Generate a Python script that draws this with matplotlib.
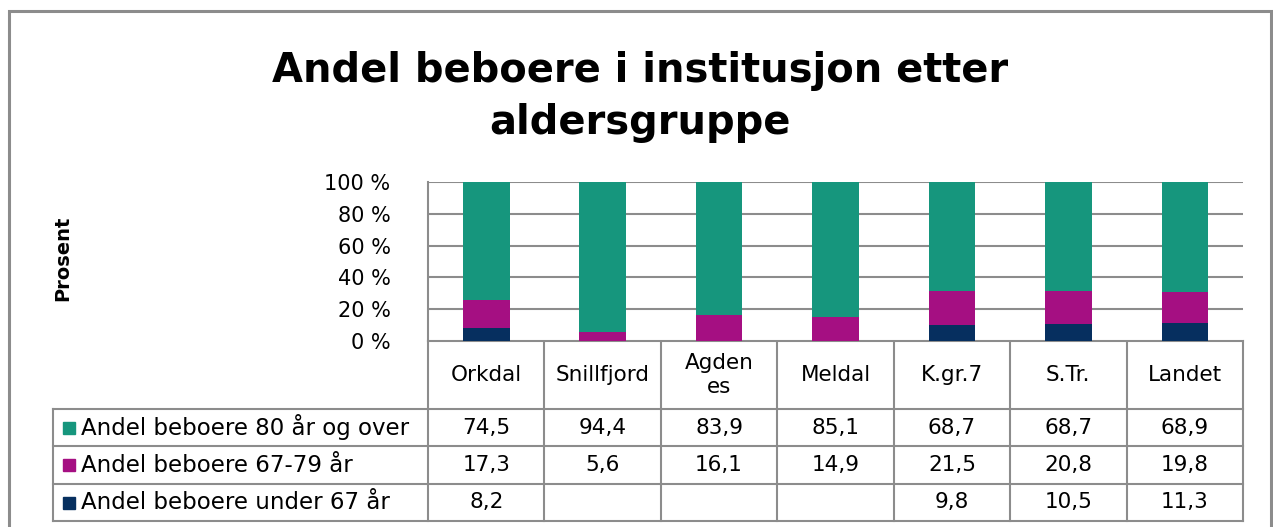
import matplotlib
matplotlib.use('Agg')

import matplotlib.pyplot as plt
import numpy as np

plt.rcParams['font.family'] = ['DejaVu Sans']

# data
categories = ['Orkdal', 'Snillfjord', 'Agden\nes', 'Meldal', 'K.gr.7', 'S.Tr.', 'Landet']
series_names = ['Andel beboere 80 år og over',
                'Andel beboere 67-79 år',
                'Andel beboere under 67 år']
over_80 = [74.5, 94.4, 83.9, 85.1, 68.7, 68.7, 68.9]
age_67_79 = [17.3, 5.6, 16.1, 14.9, 21.5, 20.8, 19.8]
under_67 = [8.2, None, None, None, 9.8, 10.5, 11.3]

# farger
COLOR_80 = '#16967d'
COLOR_67 = '#a50f82'
COLOR_U67 = '#062f5f'
COLOR_LINE = '#8c8c8c'

W, H = 1273, 527
fig = plt.figure(figsize=(W / 100, H / 100), dpi=100)

# overlay i pikselkoordinater for ramme og tabell
ov = fig.add_axes([0, 0, 1, 1])
ov.set_xlim(0, W)
ov.set_ylim(H, 0)
ov.axis('off')

# ytre ramme
ov.plot([9, 9, 1271, 1271], [H, 11, 11, H], color=COLOR_LINE, lw=2.2, solid_joinstyle='miter')

ax_l, ax_r, ax_t, ax_b = 428, 1243, 182, 341
ax = fig.add_axes([ax_l / W, 1 - ax_b / H, (ax_r - ax_l) / W, (ax_b - ax_t) / H])

x = np.arange(len(categories))
u67 = np.array([v if v is not None else 0 for v in under_67])
a67 = np.array(age_67_79)
o80 = np.array(over_80)
bw = 0.4
ax.bar(x, u67, bw, color=COLOR_U67, zorder=3)
ax.bar(x, a67, bw, bottom=u67, color=COLOR_67, zorder=3)
ax.bar(x, o80, bw, bottom=u67 + a67, color=COLOR_80, zorder=3)

ax.set_xlim(-0.5, len(categories) - 0.5)
ax.set_ylim(0, 100)
ax.set_yticks(range(0, 101, 20))
ax.set_yticklabels([f'{v} %' for v in range(0, 101, 20)], fontsize=15)
ax.tick_params(axis='y', length=0, pad=27)
ax.set_xticks([])
ax.grid(axis='y', color=COLOR_LINE, lw=1.5, zorder=0)
for s in ['top', 'right', 'bottom']:
    ax.spines[s].set_visible(False)
ax.spines['left'].set_color(COLOR_LINE)
ax.spines['left'].set_linewidth(1.5)

# tittel og aksetittel
ov.text(640, 97, 'Andel beboere i institusjon etter\naldersgruppe', ha='center', va='center',
        fontsize=28.8, fontweight='bold', linespacing=1.4)
ov.text(63, 258, 'Prosent', rotation=90, ha='center', va='center', fontsize=14, fontweight='bold')

# datatabell
col_w = (ax_r - ax_l) / len(categories)
edges = [ax_l + i * col_w for i in range(len(categories) + 1)]
rows = [341, 409, 446, 484, 521]
tab_left = 53
lw = 1.5
fs = 15.5
ov.plot([ax_l, ax_r], [rows[0], rows[0]], color=COLOR_LINE, lw=lw)
for y in rows[1:]:
    ov.plot([tab_left, ax_r], [y, y], color=COLOR_LINE, lw=lw)
ov.plot([tab_left, tab_left], [rows[1], rows[-1]], color=COLOR_LINE, lw=lw)
for e in edges:
    ov.plot([e, e], [rows[0], rows[-1]], color=COLOR_LINE, lw=lw)

for i, c in enumerate(categories):
    cx = (edges[i] + edges[i + 1]) / 2
    ov.text(cx, (rows[0] + rows[1]) / 2, c, ha='center', va='center', fontsize=fs, linespacing=1.3)

colors = [COLOR_80, COLOR_67, COLOR_U67]
for r, (name, vals, col) in enumerate(zip(series_names, [over_80, age_67_79, under_67], colors)):
    yc = (rows[r + 1] + rows[r + 2]) / 2
    ov.add_patch(plt.Rectangle((63, yc - 6), 12, 12, color=col))
    ov.text(81, yc, name, ha='left', va='center', fontsize=16.5)
    for i, v in enumerate(vals):
        if v is None:
            continue
        cx = (edges[i] + edges[i + 1]) / 2
        ov.text(cx, yc, f'{v:.1f}'.replace('.', ','), ha='center', va='center', fontsize=fs)

fig.savefig('out.png', dpi=100, facecolor='white')
